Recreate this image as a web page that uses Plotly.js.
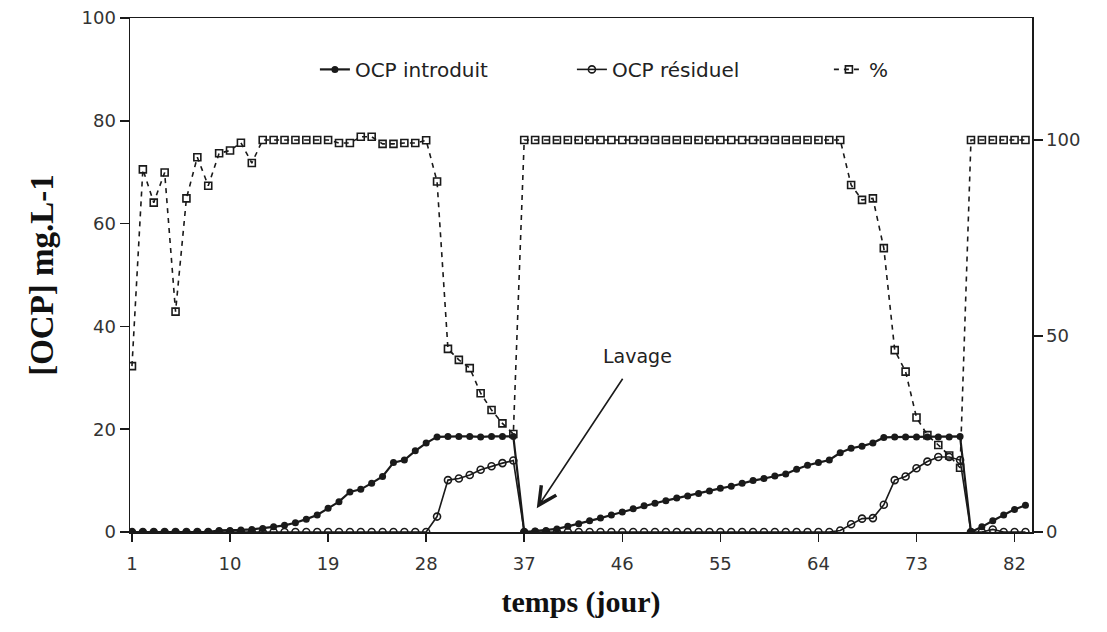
<!DOCTYPE html>
<html>
<head>
<meta charset="utf-8">
<script src="https://cdn.plot.ly/plotly-3.0.1.min.js"></script>
<style>html,body{margin:0;padding:0;background:#fff;}#chart{width:1107px;height:632px;}</style>
</head>
<body>
<div id="chart"></div>
<script>
// Days (jour)
const days = Array.from({length: 83}, (_, i) => i + 1);

// OCP introduit (mg.L-1), days 1..83
const ocpIntroduit = [
  0, 0, 0, 0, 0, 0, 0, 0, 0.3, 0.3,
  0.4, 0.5, 0.7, 1.0, 1.3, 1.8, 2.5, 3.3, 4.6, 5.9,
  7.8, 8.3, 9.5, 10.8, 13.5, 14.0, 15.8, 17.3, 18.5, 18.6,
  18.6, 18.6, 18.5, 18.6, 18.6, 18.6, 0, 0.2, 0.3, 0.6,
  1.1, 1.6, 2.2, 2.7, 3.3, 3.9, 4.5, 5.1, 5.6, 6.1,
  6.6, 7.0, 7.5, 8.0, 8.5, 8.9, 9.5, 10.0, 10.4, 10.9,
  11.3, 12.2, 13.0, 13.5, 14.0, 15.4, 16.3, 16.7, 17.3, 18.4,
  18.5, 18.5, 18.5, 18.5, 18.5, 18.5, 18.6, 0, 1.0, 2.2,
  3.3, 4.4, 5.2
];

// OCP résiduel (mg.L-1), days 1..83
const ocpResiduel = [
  0, 0, 0, 0, 0, 0, 0, 0, 0, 0,
  0, 0, 0, 0, 0, 0, 0, 0, 0, 0,
  0, 0, 0, 0, 0, 0, 0, 0, 3.0, 10.1,
  10.4, 11.1, 12.1, 12.8, 13.4, 13.9, 0, 0, 0, 0,
  0, 0, 0, 0, 0, 0, 0, 0, 0, 0,
  0, 0, 0, 0, 0, 0, 0, 0, 0, 0,
  0, 0, 0, 0, 0, 0.3, 1.5, 2.6, 2.7, 5.3,
  10.1, 10.8, 12.4, 13.7, 14.6, 14.6, 14.0, 0, 0, 0.5,
  0, 0, 0
];

// % (right axis), days 1..83
const pourcent = [
  42.3, 92.5, 84.0, 91.7, 56.2, 85.1, 95.6, 88.3, 96.6, 97.3,
  99.3, 94.1, 100, 100, 100, 100, 100, 100, 100, 99.2,
  99.2, 100.8, 100.8, 99.0, 99.0, 99.2, 99.2, 99.9, 89.4, 46.7,
  43.9, 41.8, 35.4, 31.1, 27.7, 25.0, 100, 100, 100, 100,
  100, 100, 100, 100, 100, 100, 100, 100, 100, 100,
  100, 100, 100, 100, 100, 100, 100, 100, 100, 100,
  100, 100, 100, 100, 100, 100, 88.5, 84.7, 85.1, 72.4,
  46.4, 40.9, 29.2, 24.7, 22.2, 19.5, 16.4, 100, 100, 100,
  100, 100, 100
];

const xTicks = [1, 10, 19, 28, 37, 46, 55, 64, 73, 82];
const yTicks = [0, 20, 40, 60, 80, 100];
const y2Ticks = [0, 50, 100];
const seriesNames = ['OCP introduit', 'OCP résiduel', '%'];
const lavage = {text: 'Lavage', day: 38.15, value: 4.6, textDay: 47.4, textValue: 34.2};

const ink = '#1a1a1a';
const tickFont = {family: 'DejaVu Sans, sans-serif', size: 18, color: '#333'};

const traces = [
  {
    x: days, y: ocpIntroduit, name: seriesNames[0], type: 'scatter', mode: 'lines+markers',
    line: {color: ink, width: 2.2},
    marker: {symbol: 'circle', size: 7, color: ink, line: {color: ink, width: 0}}
  },
  {
    x: days, y: ocpResiduel, name: seriesNames[1], type: 'scatter', mode: 'lines+markers',
    line: {color: ink, width: 1.6},
    marker: {symbol: 'circle-open', size: 7, color: ink, line: {color: ink, width: 1.6}}
  },
  {
    x: days, y: pourcent, name: seriesNames[2], type: 'scatter', mode: 'lines+markers', yaxis: 'y2',
    line: {color: ink, width: 1.6, dash: '5px,5px'},
    marker: {symbol: 'square-open', size: 7, color: ink, line: {color: ink, width: 1.6}}
  }
];

const layout = {
  width: 1107, height: 632,
  margin: {l: 130, r: 75, t: 18, b: 100},
  paper_bgcolor: '#fff', plot_bgcolor: '#fff',
  showlegend: true,
  legend: {
    orientation: 'h', x: 0.205, xanchor: 'left', y: 0.9, yanchor: 'middle',
    font: {family: 'DejaVu Sans, sans-serif', size: 20, color: '#222'},
    bgcolor: 'rgba(0,0,0,0)', itemwidth: 30,
    entrywidth: 212, entrywidthmode: 'pixels'
  },
  xaxis: {
    range: [0.82, 83.6], tickvals: xTicks, ticktext: xTicks.map(String),
    ticks: 'outside', ticklen: 8, tickwidth: 1.5, tickcolor: ink,
    ticklabelstandoff: 7,
    showline: true, linecolor: ink, linewidth: 1.5, mirror: true,
    showgrid: false, zeroline: false, tickfont: tickFont,
    title: {text: 'temps (jour)', font: {family: 'Liberation Serif, serif', size: 30, color: '#111', weight: 'bold'}, standoff: 18},
    automargin: false
  },
  yaxis: {
    range: [0, 100], tickvals: yTicks,
    ticks: 'outside', ticklen: 9, tickwidth: 1.5, tickcolor: ink,
    showline: true, linecolor: ink, linewidth: 1.5,
    showgrid: false, zeroline: false, tickfont: tickFont,
    title: {text: '[OCP] mg.L-1', font: {family: 'Liberation Serif, serif', size: 33, color: '#111', weight: 'bold'}, standoff: 18},
    automargin: false
  },
  yaxis2: {
    range: [0, 131.1], tickvals: y2Ticks, overlaying: 'y', side: 'right',
    ticks: 'outside', ticklen: 9, tickwidth: 1.5, tickcolor: ink,
    showline: true, linecolor: ink, linewidth: 1.5,
    showgrid: false, zeroline: false, tickfont: tickFont,
    automargin: false
  },
  annotations: [{
    x: lavage.day, y: lavage.value, xref: 'x', yref: 'y',
    ax: lavage.textDay, ay: lavage.textValue, axref: 'x', ayref: 'y',
    text: lavage.text, showarrow: true, arrowhead: 5, arrowsize: 2.2, arrowwidth: 1.6,
    arrowcolor: ink, startstandoff: 12,
    font: {family: 'DejaVu Sans, sans-serif', size: 19, color: '#222'}
  }]
};

Plotly.newPlot('chart', traces, layout, {displayModeBar: false, staticPlot: true});
</script>
</body>
</html>
